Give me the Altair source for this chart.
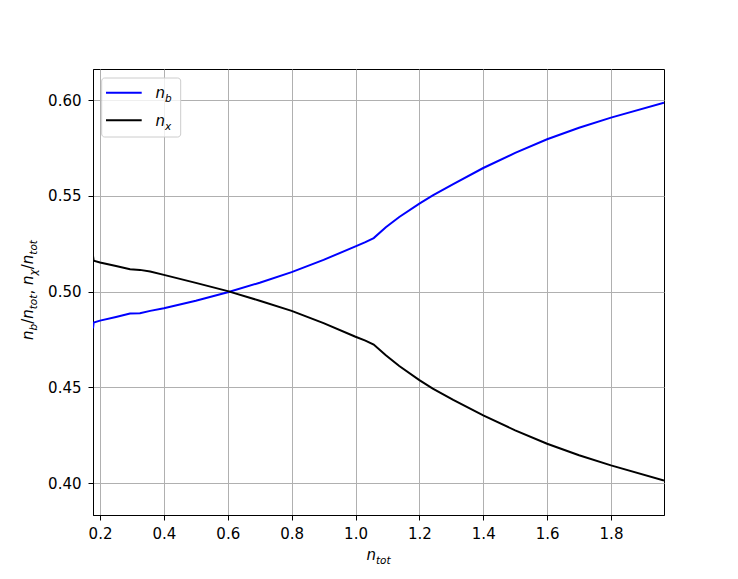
import altair as alt
import pandas as pd

# ---- data ----
n_tot = [0.178, 0.180, 0.20, 0.25, 0.294, 0.325, 0.357, 0.40, 0.50, 0.60, 0.70,
         0.80, 0.90, 1.00, 1.031, 1.057, 1.095, 1.137, 1.20, 1.242, 1.306, 1.40,
         1.50, 1.60, 1.70, 1.80, 1.966]
n_b = [0.4809, 0.4839, 0.4849, 0.4868, 0.4886, 0.4888, 0.4900, 0.4914, 0.4953,
       0.4997, 0.5047, 0.5102, 0.5166, 0.5237, 0.5259, 0.5280, 0.5337, 0.5390,
       0.5460, 0.5503, 0.5562, 0.5646, 0.5725, 0.5796, 0.5856, 0.5909, 0.5987]
n_x = [0.5187, 0.5162, 0.5153, 0.5134, 0.5117, 0.5114, 0.5105, 0.5088, 0.5046,
       0.5003, 0.4953, 0.4900, 0.4836, 0.4765, 0.4745, 0.4724, 0.4668, 0.4612,
       0.4538, 0.4494, 0.4435, 0.4354, 0.4276, 0.4206, 0.4146, 0.4093, 0.4014]
series = ["n_b", "n_x"]
colors = ["blue", "black"]
x_ticks = [0.2, 0.4, 0.6, 0.8, 1.0, 1.2, 1.4, 1.6, 1.8]
y_ticks = [0.40, 0.45, 0.50, 0.55, 0.60]
x_domain = [0.178, 1.966]
y_domain = [0.3834, 0.6163]

W, H = 571, 446
FONT = "DejaVu Sans"
LW = 2.0

rows = []
for xv, a, b in zip(n_tot, n_b, n_x):
    rows.append({"n_tot": xv, "ratio": a, "series": "n_b"})
    rows.append({"n_tot": xv, "ratio": b, "series": "n_x"})
df = pd.DataFrame(rows)

lines = alt.Chart(df).mark_line(strokeWidth=LW, clip=True).encode(
    x=alt.X("n_tot:Q",
            scale=alt.Scale(domain=x_domain, nice=False, zero=False),
            axis=alt.Axis(values=x_ticks, format=".1f", title=None,
                          labelPadding=6)),
    y=alt.Y("ratio:Q",
            scale=alt.Scale(domain=y_domain, nice=False, zero=False),
            axis=alt.Axis(values=y_ticks, format=".2f", title=None,
                          labelPadding=7)),
    color=alt.Color("series:N", scale=alt.Scale(domain=series, range=colors),
                    legend=None),
    order="n_tot:Q",
)

# ---- math-style text helpers (italic letters, subscripts) ----
ADV = {"n": 0.634, "b": 0.635, "t": 0.392, "o": 0.612, "x": 0.592,
       "χ": 0.60, "/": 0.337, ",": 0.318, " ": 0.318}
BASE, SUB, SHIFT = 15, 10.5, 4


def one():
    return pd.DataFrame({"k": [0]})


def width(pieces):
    w = 0
    for txt, is_sub in pieces:
        fs = SUB if is_sub else BASE
        w += sum(ADV.get(c, 0.6) for c in txt) * fs
    return w


def math_layers(pieces, x0, y0, rotated=False):
    out = []
    adv = 0.0
    for txt, is_sub in pieces:
        fs = SUB if is_sub else BASE
        style = "normal" if txt.strip() in ("/", ",") else "italic"
        if txt.strip():
            if rotated:
                px, py = x0 + (SHIFT if is_sub else 0), y0 - adv
            else:
                px, py = x0 + adv, y0 + (SHIFT if is_sub else 0)
            out.append(
                alt.Chart(one()).mark_text(
                    text=txt, align="left", baseline="alphabetic",
                    angle=270 if rotated else 0, font=FONT, fontSize=fs,
                    fontStyle=style, color="black"
                ).encode(x=alt.value(px), y=alt.value(py))
            )
        adv += sum(ADV.get(c, 0.6) for c in txt) * fs
    return out


xt = [("n", False), ("tot", True)]
x_title = math_layers(xt, W / 2 - width(xt) / 2, 491)

yt = [("n", False), ("b", True), ("/", False), ("n", False), ("tot", True),
      (",", False), (" ", False), ("n", False), ("χ", True), ("/", False),
      ("n", False), ("tot", True)]
y_title = math_layers(yt, -60.5, 223 + width(yt) / 2 - 2, rotated=True)

# ---- legend ----
leg_box = alt.Chart(one()).mark_rect(
    fill="white", fillOpacity=0.8, stroke="#cccccc", strokeWidth=1,
    cornerRadius=3
).encode(x=alt.value(8.7), x2=alt.value(87.7), y=alt.value(9),
         y2=alt.value(68))

leg_lines = []
leg_texts = []
for name, col, ly, ty, sub in [("n_b", "blue", 23.7, 29, "b"),
                                ("n_x", "black", 51.3, 57.3, "x")]:
    leg_lines.append(
        alt.Chart(one()).mark_rule(color=col, strokeWidth=LW).encode(
            x=alt.value(13), x2=alt.value(48.7), y=alt.value(ly)))
    leg_texts += math_layers([("n", False), (sub, True)], 62.5, ty)

chart = alt.layer(
    lines, leg_box, *leg_lines, *leg_texts, *x_title, *y_title
).properties(
    width=W, height=H,
    autosize=alt.AutoSizeParams(type="none"),
    padding={"left": 85, "top": 61, "right": 50, "bottom": 50},
).configure_view(
    stroke="black", strokeWidth=1
).configure_axis(
    labelFont=FONT, labelFontSize=15, labelColor="black",
    tickColor="black", tickSize=5, tickWidth=1,
    domainColor="black", domainWidth=1,
    grid=True, gridColor="#b0b0b0", gridWidth=1,
)

chart.save("out.html", embed_options={"renderer": "svg", "actions": False})
